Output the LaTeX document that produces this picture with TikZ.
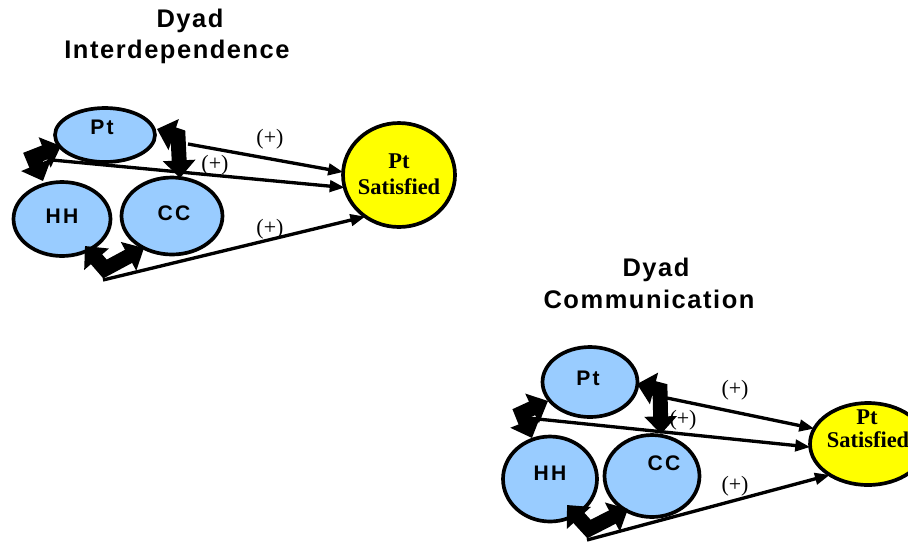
\documentclass[tikz,border=0pt]{standalone}
\usepackage{fontspec}
\setmainfont{Liberation Serif}
\newfontfamily\arialb[LetterSpace=6]{Liberation Sans Bold}
\newfontfamily\arialc[LetterSpace=10]{Liberation Sans Bold}
\usetikzlibrary{shapes.geometric,arrows.meta}
\definecolor{lblue}{HTML}{99CCFF}
\definecolor{yel}{HTML}{FFFF00}
\begin{document}
\begin{tikzpicture}[x=0.02cm,y=-0.02cm,
  circ/.style={ellipse,draw=black,line width=2.1pt,fill=lblue,inner sep=0pt,outer sep=0pt},
  sat/.style={ellipse,draw=black,line width=2.1pt,fill=yel,inner sep=0pt,outer sep=0pt},
  ttl/.style={font=\arialb\fontsize{14.5pt}{16pt}\selectfont,inner sep=0pt},
  lab/.style={font=\arialc\fontsize{12pt}{14pt}\selectfont,inner sep=0pt},
  satlab/.style={font=\bfseries\fontsize{12.8pt}{14pt}\selectfont,inner sep=0pt},
  plus/.style={font=\fontsize{12.5pt}{14pt}\selectfont,inner sep=0pt},
  conn/.style={line width=1.9pt,-{Triangle[length=8.5pt,width=6.5pt]}},
  block/.style={line width=8.5pt,line join=miter,{Triangle[length=10pt,width=18pt]}-{Triangle[length=10pt,width=18pt]}}]
\useasboundingbox (0,0) rectangle (908,542);
\clip (0,0) rectangle (908,542);
% ---------- top-left group ----------
\node[ttl] (ta) at (190,21) {Dyad};
\node[ttl] (tb) at (177,52) {Interdependence};
\node[circ,minimum width=2cm,minimum height=1.08cm] (apt) at (105,135) {};
\node[circ,minimum width=1.94cm,minimum height=1.48cm] (ahh) at (62,219) {};
\node[circ,minimum width=2.02cm,minimum height=1.54cm] (acc) at (172,216) {};
\node[sat,minimum width=2.24cm,minimum height=2.08cm] (asat) at (399,175) {};
\node[lab] (aptl) at (102,127) {Pt};
\node[lab] (ahhl) at (62,216) {HH};
\node[lab] (accl) at (174,213) {CC};
\node[satlab] (asatl1) at (399,161) {Pt};
\node[satlab] (asatl2) at (399,187) {Satisfied};
\coordinate (as1) at (188,144);
\coordinate (as2) at (52,160);
\coordinate (as3) at (103,280);
\draw[conn] (as1) -- (asat.177);
\draw[conn] (as2) -- (asat.193);
\draw[conn] (as3) -- (asat.231);
\node[plus] (ap1) at (270,139) {(+)};
\node[plus] (ap2) at (215,165) {(+)};
\node[plus] (ap3) at (270,229) {(+)};
\coordinate (ab1a) at (61,146); \coordinate (ab1c) at (33,157); \coordinate (ab1b) at (43,181);
\coordinate (ab2a) at (157,129); \coordinate (ab2c) at (178,136); \coordinate (ab2b) at (180,178);
\coordinate (ab3a) at (85,246); \coordinate (ab3c) at (105,269); \coordinate (ab3b) at (144,248);
\draw[block] (ab1a) -- (ab1c) -- (ab1b);
\draw[block] (ab2a) -- (ab2c) -- (ab2b);
\draw[block] (ab3a) -- (ab3c) -- (ab3b);
% ---------- bottom-right group ----------
\node[ttl] (ba) at (656,270) {Dyad};
\node[ttl] (bb) at (649,299) {Communication};
\node[circ,minimum width=1.9cm,minimum height=1.4cm] (bpt) at (590,382) {};
\node[circ,minimum width=1.88cm,minimum height=1.7cm] (bhh) at (550,479) {};
\node[circ,minimum width=1.9cm,minimum height=1.64cm] (bcc) at (652,476) {};
\node[sat,minimum width=2.32cm,minimum height=1.64cm] (bsat) at (868,444) {};
\node[lab] (bptl) at (588,378) {Pt};
\node[lab] (bhhl) at (550,473) {HH};
\node[lab] (bccl) at (664,463) {CC};
\node[satlab] (bsatl1) at (867,417) {Pt};
\node[satlab] (bsatl2) at (868,440) {Satisfied};
\coordinate (bs1) at (667,398);
\coordinate (bs2) at (528,418);
\coordinate (bs3) at (587,540);
\draw[conn] (bs1) -- (bsat.164);
\draw[conn] (bs2) -- (bsat.183);
\draw[conn] (bs3) -- (bsat.219);
\node[plus] (bp1) at (735,390) {(+)};
\node[plus] (bp2) at (683,420) {(+)};
\node[plus] (bp3) at (735,486) {(+)};
\coordinate (bb1a) at (548,401); \coordinate (bb1c) at (522,413); \coordinate (bb1b) at (532,438);
\coordinate (bb2a) at (637,384); \coordinate (bb2c) at (660,390); \coordinate (bb2b) at (661,434);
\coordinate (bb3a) at (567,505); \coordinate (bb3c) at (589,529); \coordinate (bb3b) at (628,509);
\draw[block] (bb1a) -- (bb1c) -- (bb1b);
\draw[block] (bb2a) -- (bb2c) -- (bb2b);
\draw[block] (bb3a) -- (bb3c) -- (bb3b);
\end{tikzpicture}
\end{document}
